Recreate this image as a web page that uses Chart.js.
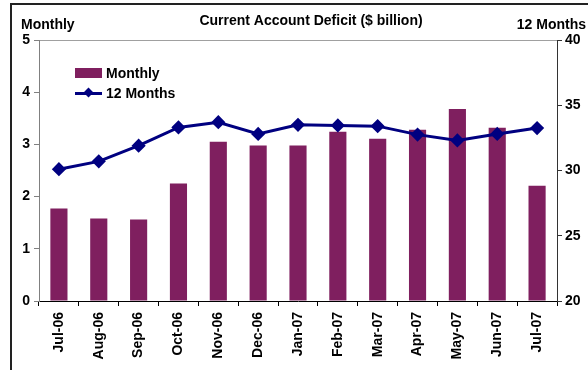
<!DOCTYPE html>
<html>
<head>
<meta charset="utf-8">
<script src="https://cdn.jsdelivr.net/npm/chart.js@4"></script>
<style>
  body { margin: 0; background: #fff; }
  #wrap { position: relative; width: 588px; height: 370px; }
  .legend { position: absolute; left: 75px; font: bold 14px "Liberation Sans", Arial, sans-serif; color: #000; }
  .legend div { height: 20px; line-height: 20px; display: flex; align-items: center; }
  .swatch { width: 27px; height: 10px; background: #7f1f5f; margin-right: 4px; }
  .lineSw { width: 27px; height: 10px; margin-right: 4px; position: relative; }
  .lineSw:before { content: ''; position: absolute; left: 0; right: 0; top: 4px; height: 3px; background: #000080; }
  .lineSw:after { content: ''; position: absolute; left: 10px; top: 1px; width: 7px; height: 7px; background: #000080; transform: rotate(45deg); }
</style>
</head>
<body>
<div id="wrap">
  <canvas id="myChart" width="588" height="370"></canvas>
  <div class="legend" style="top:63px">
    <div><span class="swatch"></span>Monthly</div>
    <div><span class="lineSw"></span>12 Months</div>
  </div>
</div>
<script>
const labels = [
    'Jul-06', 'Aug-06', 'Sep-06', 'Oct-06', 'Nov-06', 'Dec-06',
    'Jan-07', 'Feb-07', 'Mar-07', 'Apr-07', 'May-07', 'Jun-07', 'Jul-07',
];
const monthly = [1.77, 1.58, 1.56, 2.25, 3.05, 2.98, 2.98, 3.24, 3.11, 3.28, 3.68, 3.32, 2.21];
const twelveMonths = [30.1, 30.7, 31.9, 33.3, 33.7, 32.8, 33.5, 33.45, 33.4, 32.75, 32.3, 32.8, 33.25];

const font = { family: '"Liberation Sans", Arial, sans-serif', size: 14, weight: 'bold' };

// frame, plot top border and header texts
const extras = {
    id: 'extras',
    beforeDraw(chart) {
        const ctx = chart.ctx;
        const a = chart.chartArea;
        ctx.save();
        ctx.strokeStyle = '#222';
        ctx.lineWidth = 2;
        ctx.beginPath();
        ctx.moveTo(11, 370);
        ctx.lineTo(11, 4);
        ctx.lineTo(588, 4);
        ctx.stroke();
        ctx.strokeStyle = '#a0a0a0';
        ctx.lineWidth = 1;
        ctx.beginPath();
        ctx.moveTo(a.left, a.top + 0.5);
        ctx.lineTo(a.right, a.top + 0.5);
        ctx.stroke();
        ctx.fillStyle = '#000';
        ctx.font = 'bold 14px "Liberation Sans", Arial, sans-serif';
        ctx.textBaseline = 'middle';
        ctx.textAlign = 'left';
        ctx.fillText('Monthly', 21, 25);
        ctx.textAlign = 'right';
        ctx.fillText('12 Months', 586, 25);
        ctx.textAlign = 'center';
        ctx.fillText('Current Account Deficit ($ billion)', 311, 21);
        ctx.restore();
    },
};

const data = {
    labels: labels,
    datasets: [
        {
            type: 'line',
            label: '12 Months',
            data: twelveMonths,
            yAxisID: 'y1',
            borderColor: '#000080',
            backgroundColor: '#000080',
            borderWidth: 3,
            pointStyle: 'rectRot',
            pointRadius: 5,
            order: 0,
        },
        {
            type: 'bar',
            label: 'Monthly',
            data: monthly,
            yAxisID: 'y',
            backgroundColor: '#7f1f5f',
            barPercentage: 0.43,
            categoryPercentage: 1,
            order: 1,
        },
    ],
};

const config = {
    data: data,
    plugins: [extras],
    options: {
        responsive: false,
        animation: false,
        layout: { padding: { top: 40, left: 0, right: 0, bottom: 0 } },
        plugins: {
            legend: false,
            tooltip: false,
        },
        scales: {
            x: {
                afterFit(s) { s.height = 69; },
                grid: { offset: true, drawOnChartArea: false, tickLength: 5, color: '#000' },
                border: { color: '#000', width: 1 },
                ticks: { color: '#000', font: font, minRotation: 90, maxRotation: 90, padding: 6, autoSkip: false },
            },
            y: {
                position: 'left',
                min: 0,
                max: 5,
                afterFit(s) { s.width = 39; },
                grid: { drawOnChartArea: false, tickLength: 5, color: '#808080' },
                border: { color: '#808080', width: 1 },
                ticks: { stepSize: 1, color: '#000', font: font, padding: 4 },
            },
            y1: {
                position: 'right',
                min: 20,
                max: 40,
                afterFit(s) { s.width = 31; },
                grid: { drawOnChartArea: false, tickLength: 5, color: '#333' },
                border: { color: '#333', width: 1 },
                ticks: { stepSize: 5, color: '#000', font: font, padding: 3 },
            },
        },
    },
};

var myChart = new Chart(document.getElementById('myChart'), config);
</script>
</body>
</html>
